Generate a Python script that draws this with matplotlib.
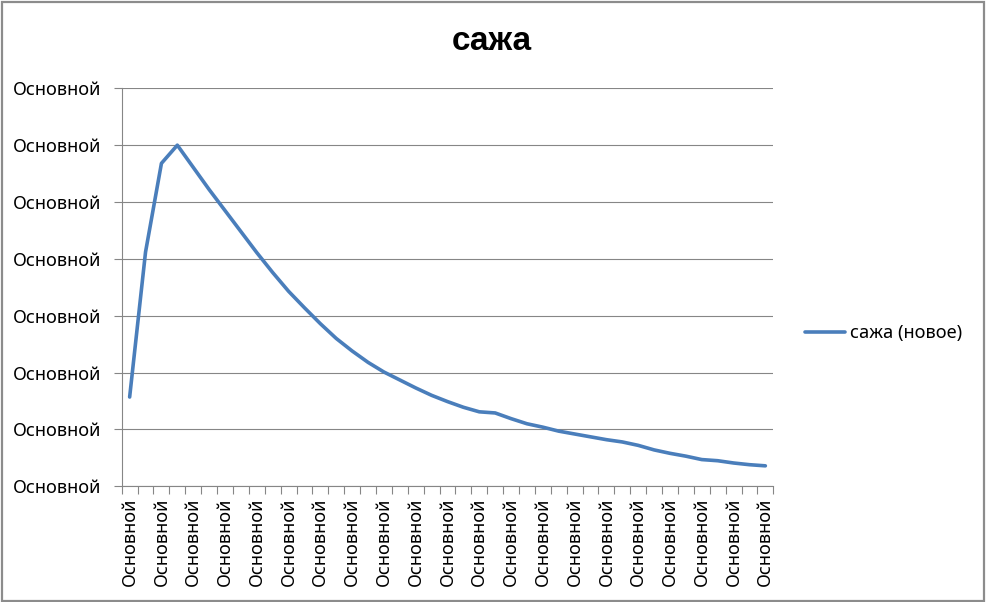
import matplotlib
matplotlib.use('Agg')
import matplotlib.pyplot as plt
from matplotlib.patches import Rectangle

plt.rcParams['font.family'] = ['Noto Sans', 'DejaVu Sans']

# values (y in gridline units 0..7)
soot_new = [1.57, 4.12, 5.68, 6.00, 5.61, 5.22, 4.85, 4.48, 4.11, 3.76,
            3.43, 3.14, 2.86, 2.60, 2.38, 2.18, 2.01, 1.87, 1.73, 1.60,
            1.49, 1.39, 1.31, 1.29, 1.19, 1.10, 1.04, 0.97, 0.92, 0.87,
            0.82, 0.78, 0.72, 0.64, 0.58, 0.53, 0.47, 0.45, 0.41, 0.38,
            0.36]
categories = ['Основной'] * len(soot_new)
y_ticks = [0, 1, 2, 3, 4, 5, 6, 7]
y_tick_labels = ['Основной'] * len(y_ticks)

title = 'сажа'
series_name = 'сажа (новое)'

line_color = '#4a7ebb'
grid_color = '#868686'
fs = 13.1


def main():
    fig = plt.figure(figsize=(9.86, 6.02), dpi=100)
    fig.patch.set_facecolor('white')
    fig.patches.append(Rectangle((0.002, 0.002), 0.996, 0.995, transform=fig.transFigure,
                                 fill=False, edgecolor='#8c8c8c', linewidth=1.6))

    ax = fig.add_axes([121.7 / 986, 1 - 486.3 / 602, (773.3 - 121.7) / 986, (486.3 - 88.3) / 602])

    x = list(range(len(soot_new)))
    ax.plot(x, soot_new, color=line_color, linewidth=2.6, solid_capstyle='round',
            solid_joinstyle='round', label=series_name)

    ax.set_xlim(-0.5, len(soot_new) - 0.5)
    ax.set_ylim(y_ticks[0], y_ticks[-1])

    ax.set_yticks(y_ticks)
    ax.set_yticklabels(y_tick_labels, fontsize=fs)
    ax.tick_params(axis='y', direction='out', length=6, width=0.8, color=grid_color, pad=8.6)
    ax.yaxis.grid(True, color=grid_color, linewidth=0.8)
    ax.set_axisbelow(True)

    major = x[::2]
    ax.set_xticks(major)
    ax.set_xticklabels([categories[i] for i in major], rotation=90, fontsize=fs)
    ax.set_xticks([i - 0.5 for i in range(len(soot_new) + 1)], minor=True)
    ax.tick_params(axis='x', which='major', length=0, pad=8)
    ax.tick_params(axis='x', which='minor', direction='out', length=6, width=0.8, color=grid_color)

    for side in ['top', 'right']:
        ax.spines[side].set_visible(False)
    for side in ['left', 'bottom']:
        ax.spines[side].set_color(grid_color)
        ax.spines[side].set_linewidth(0.8)

    fig.text(492 / 986, 1 - 42 / 602, title, ha='center', va='center',
             fontsize=24, fontweight='bold', family=['Liberation Sans', 'DejaVu Sans'])

    ax.legend(loc='center left', bbox_to_anchor=(805 / 986, 1 - 333 / 602),
              bbox_transform=fig.transFigure, frameon=False, fontsize=fs,
              handlelength=2.2, handletextpad=0.3, borderpad=0, borderaxespad=0)

    fig.savefig('out.png', dpi=100)


if __name__ == '__main__':
    main()
